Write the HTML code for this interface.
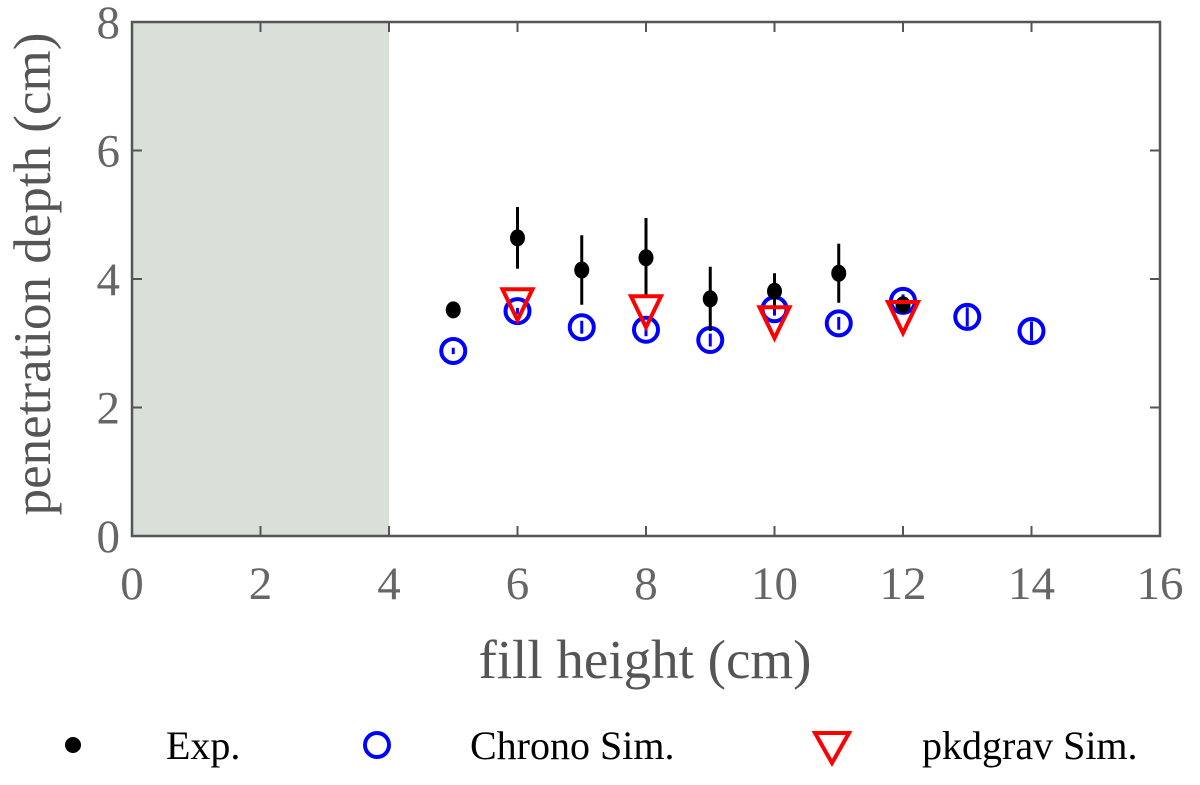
<!DOCTYPE html>
<html><head><meta charset="utf-8"><style>
body{margin:0;background:#fff;}
svg text{font-family:"Liberation Serif",serif;}
</style></head><body>
<svg id="chart" width="1200" height="780" xmlns="http://www.w3.org/2000/svg">
<rect id="shade" fill="#d9dfd9"/>
<g id="axes"></g>
<g id="marks"></g>
<text x="645" y="678" font-size="55" fill="#555" text-anchor="middle">fill height (cm)</text>
<text transform="translate(50,274) rotate(-90)" font-size="53" fill="#555" text-anchor="middle">penetration depth (cm)</text>
<g>
<circle cx="73" cy="745" r="8" fill="#000"/>
<text x="166" y="759" font-size="40" fill="#000">Exp.</text>
<circle cx="377" cy="745" r="12" fill="none" stroke="#0000ff" stroke-width="4"/>
<text x="470" y="759" font-size="40" fill="#000">Chrono Sim.</text>
<polygon points="815,733 849,733 832,763" fill="none" stroke="#ff0000" stroke-width="4"/>
<text x="922" y="759" font-size="40" fill="#000">pkdgrav Sim.</text>
</g>
</svg>
<script>
const xTicks=[0,2,4,6,8,10,12,14,16];
const yTicks=[0,2,4,6,8];
const expX=[5,6,7,8,9,10,11,12];
const expY=[3.52,4.64,4.14,4.33,3.69,3.81,4.09,3.6];
const expErr=[0.08,0.48,0.54,0.62,0.5,0.28,0.46,0.05];
const chronoX=[5,6,7,8,9,10,11,12,13,14];
const chronoY=[2.88,3.5,3.25,3.21,3.05,3.53,3.31,3.66,3.41,3.19];
const chronoErr=[0.05,0.05,0.1,0.1,0.1,0.1,0.1,0.1,0.15,0.15];
const pkdX=[6,8,10,12];
const pkdY=[3.67,3.56,3.39,3.47];
const shadeRange=[0,4];
const X0=132,X1=1160,Y0=536,Y1=22;
const sx=v=>X0+(v-0)/16*(X1-X0);
const sy=v=>Y0-(v-0)/8*(Y0-Y1);
const NS="http://www.w3.org/2000/svg";
function mk(tag,attrs,parent){const e=document.createElementNS(NS,tag);for(const k in attrs)e.setAttribute(k,attrs[k]);parent.appendChild(e);return e;}
const sh=document.getElementById('shade');
sh.setAttribute('x',sx(shadeRange[0]));sh.setAttribute('y',Y1);sh.setAttribute('width',sx(shadeRange[1])-sx(shadeRange[0]));sh.setAttribute('height',Y0-Y1);
const ax=document.getElementById('axes');
const fr=mk('rect',{x:X0,y:Y1,width:X1-X0,height:Y0-Y1,fill:'none',stroke:'#555','stroke-width':2.5},ax);


xTicks.forEach(t=>{
  const l=mk('line',{x1:sx(t),x2:sx(t),y1:Y0,y2:Y0-10,stroke:'#555','stroke-width':2},ax);
  
  
  const l2=mk('line',{x1:sx(t),x2:sx(t),y1:Y1,y2:Y1+10,stroke:'#555','stroke-width':2},ax);
  
  
  const tx=mk('text',{x:sx(t),y:Y0+63,'font-size':47,fill:'#666','text-anchor':'middle'},ax);tx.textContent=t;
  
  
});
yTicks.forEach(t=>{
  const l=mk('line',{x1:X0,x2:X0+10,y1:sy(t),y2:sy(t),stroke:'#555','stroke-width':2},ax);
  
  
  const l2=mk('line',{x1:X1,x2:X1-10,y1:sy(t),y2:sy(t),stroke:'#555','stroke-width':2},ax);
  
  
  const tx=mk('text',{x:X0-12,y:sy(t)+16,'font-size':47,fill:'#666','text-anchor':'end'},ax);tx.textContent=t;
  
  
});
const mg=document.getElementById('marks');
chronoX.forEach((x,i)=>{
  const e=mk('line',{x1:sx(x),x2:sx(x),y1:sy(chronoY[i]+chronoErr[i]),y2:sy(chronoY[i]-chronoErr[i]),stroke:'#0000ff','stroke-width':3},mg);
  
  
  const c=mk('circle',{cx:sx(x),cy:sy(chronoY[i]),r:12,fill:'none',stroke:'#0000ff','stroke-width':4},mg);
  
  
});
expX.forEach((x,i)=>{
  const e=mk('line',{x1:sx(x),x2:sx(x),y1:sy(expY[i]+expErr[i]),y2:sy(expY[i]-expErr[i]),stroke:'#000','stroke-width':3},mg);
  
  
  const c=mk('ellipse',{cx:sx(x),cy:sy(expY[i]),rx:7.5,ry:8.5,fill:'#000'},mg);
  
  
});
pkdX.forEach((x,i)=>{
  const cx=sx(x),cy=sy(pkdY[i]);
  const p=mk('polygon',{points:`${cx-15},${cy-11} ${cx+15},${cy-11} ${cx},${cy+20}`,fill:'none',stroke:'#ff0000','stroke-width':4},mg);
  
  
});
</script>
</body></html>
